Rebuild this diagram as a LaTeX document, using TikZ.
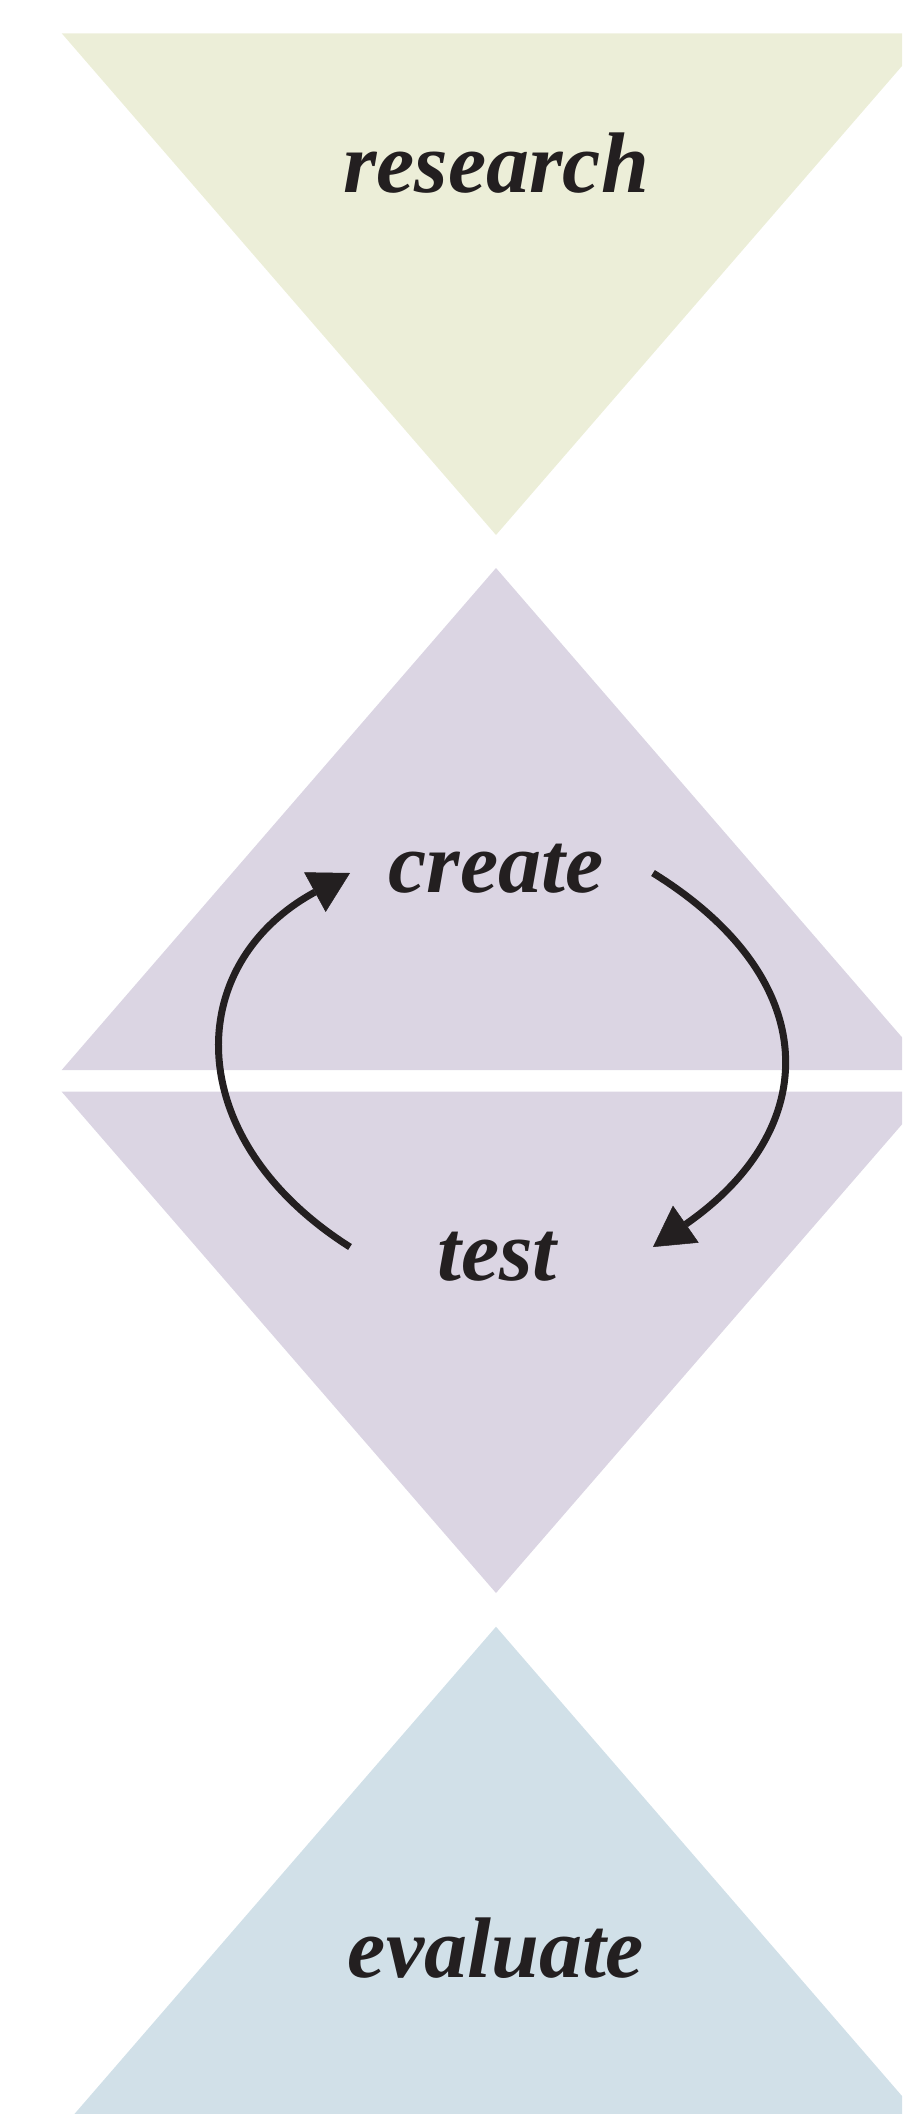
\documentclass[tikz,border=0pt]{standalone}
\usepackage{fontspec}
\setmainfont{Liberation Serif}
\usetikzlibrary{arrows.meta,positioning}
\definecolor{researchgreen}{RGB}{236,238,216}
\definecolor{createlilac}{RGB}{219,213,227}
\definecolor{evaluateblue}{RGB}{209,224,232}
\definecolor{inkdark}{RGB}{35,31,32}
\tikzset{
    % Stage labels and cycle arrows
    stagelabel/.style={
        anchor=base, inner sep=0pt, text=inkdark,
        font=\fontsize{86}{100}\selectfont\bfseries\itshape
    },
    cyclearrow/.style={
        -{Triangle[length=40pt,width=45pt,line width=0.5pt]},
        line width=7pt, draw=inkdark
    }
}

\begin{document}
\begin{tikzpicture}[x=1pt,y=-1pt]

\useasboundingbox (0,0) rectangle (902,2114);
\clip (0,0) rectangle (902,2114);

% Stage triangles
\fill[researchgreen] (61.7,33.3) -- (930.3,33.3) -- (496,535) -- cycle;
\fill[createlilac] (496,568) -- (930.3,1070) -- (61.7,1070) -- cycle;
\fill[createlilac] (61.7,1091.7) -- (930.3,1091.7) -- (496,1593) -- cycle;
\fill[evaluateblue] (496,1626.7) -- (930.3,2128.7) -- (61.7,2128.7) -- cycle;

% Stage labels
\node[stagelabel] (research) at (496,192) {research};
\node[stagelabel] (create) at (496,892) {create};
\node[stagelabel] (test) at (497,1280) {test};
\node[stagelabel] (evaluate) at (496,1977) {evaluate};

% Ends of the create/test loop
\coordinate (testout) at (350,1247);
\coordinate (createin) at (350,873);
\coordinate (createout) at (653,873);
\coordinate (testin) at (653,1247);

% Cycle arrows
\draw[cyclearrow] (testout) .. controls (181,1140) and (181,965) .. (createin);
\draw[cyclearrow] (createout) .. controls (824,979) and (824,1128) .. (testin);

\end{tikzpicture}
\end{document}
